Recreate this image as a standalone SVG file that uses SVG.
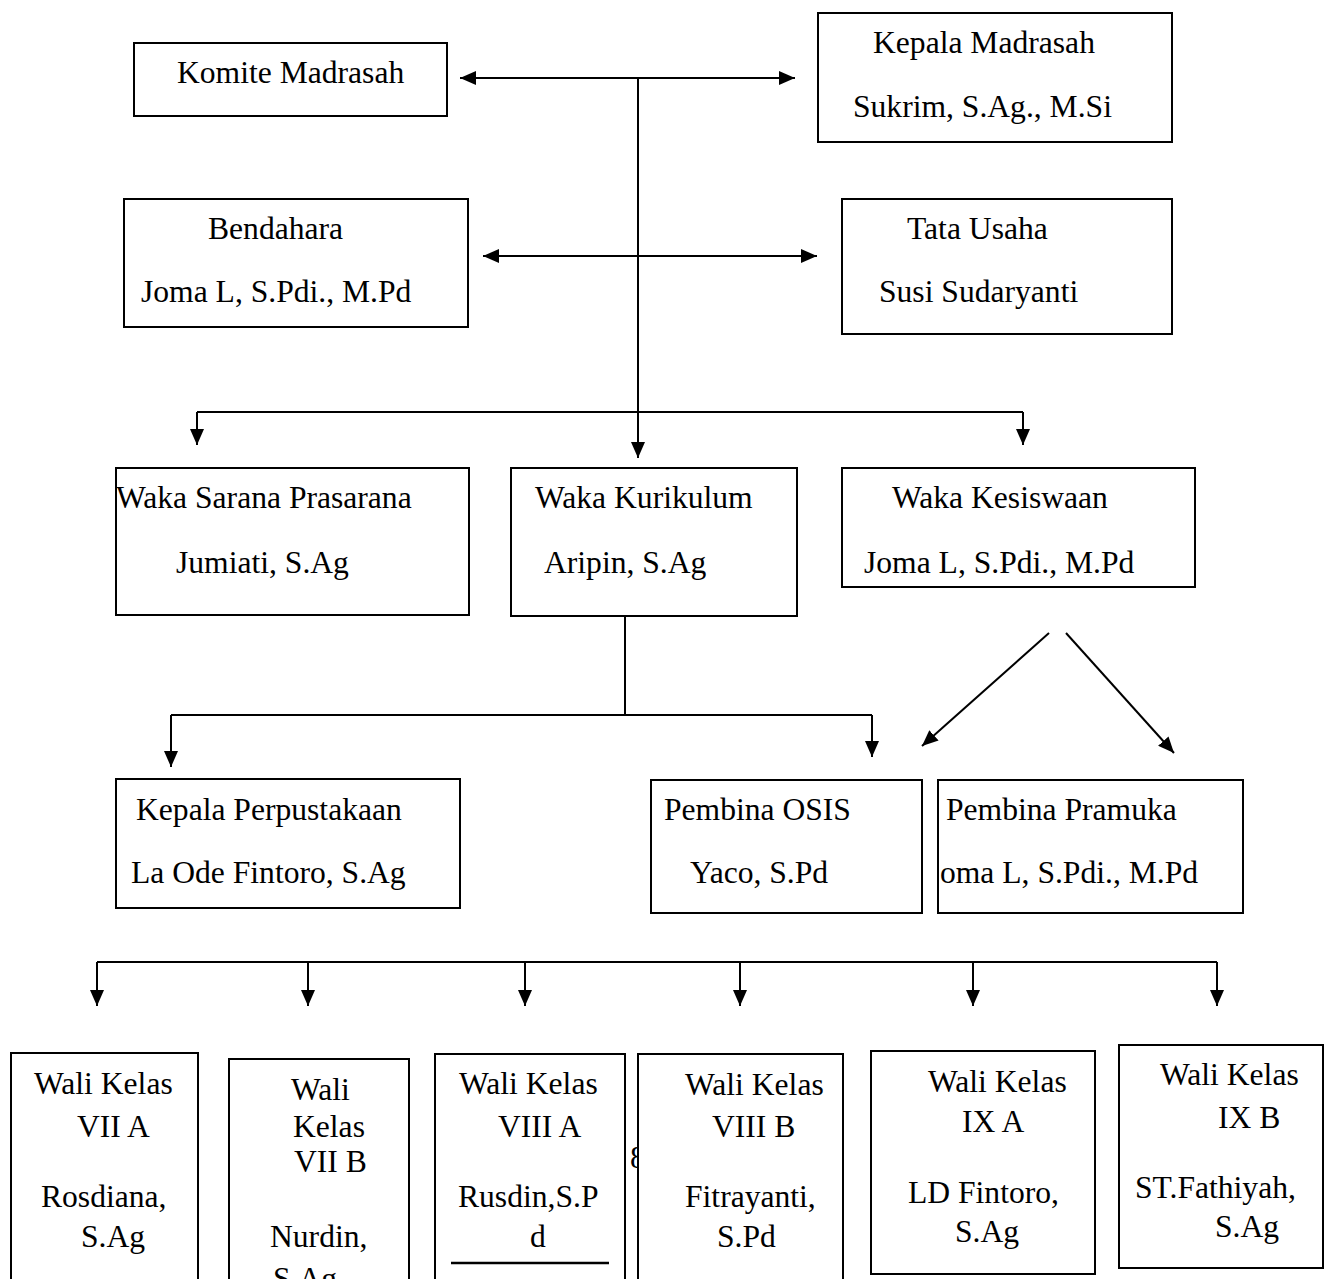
<svg xmlns="http://www.w3.org/2000/svg" width="1336" height="1279" viewBox="0 0 1336 1279">
<style>
  .box { fill: #fff; stroke: #000; stroke-width: 2; }
  .t { font-family: "Liberation Serif", "Times New Roman", serif; font-size: 31.6px; fill: #000; }
  .ln { fill: none; stroke: #000; stroke-width: 2; }
  .arr { marker-end: url(#ah); }
  .dbl { marker-start: url(#ah); marker-end: url(#ah); }
</style>
<defs>
  <marker id="ah" viewBox="0 0 16 14" refX="16" refY="7" markerWidth="16" markerHeight="14" markerUnits="userSpaceOnUse" orient="auto-start-reverse">
    <path d="M0,0 L16,7 L0,14 z" fill="#000"/>
  </marker>
</defs>
<rect width="1336" height="1279" fill="#fff"/>

<g id="connectors">
  <line class="ln dbl" x1="460" y1="78" x2="795" y2="78"/>
  <line class="ln dbl" x1="483" y1="256" x2="817" y2="256"/>
  <line class="ln arr" x1="638" y1="78" x2="638" y2="458"/>
  <line class="ln" x1="197" y1="412" x2="1023" y2="412"/>
  <line class="ln arr" x1="197" y1="412" x2="197" y2="445"/>
  <line class="ln arr" x1="1023" y1="412" x2="1023" y2="445"/>
  <line class="ln" x1="625" y1="616" x2="625" y2="715"/>
  <line class="ln" x1="171" y1="715" x2="872" y2="715"/>
  <line class="ln arr" x1="171" y1="715" x2="171" y2="767"/>
  <line class="ln arr" x1="872" y1="715" x2="872" y2="757"/>
  <line class="ln arr" x1="1049" y1="633" x2="922" y2="746"/>
  <line class="ln arr" x1="1066" y1="633" x2="1174" y2="753"/>
  <line class="ln" x1="97" y1="962" x2="1217" y2="962"/>
  <line class="ln arr" x1="97" y1="962" x2="97" y2="1006"/>
  <line class="ln arr" x1="308" y1="962" x2="308" y2="1006"/>
  <line class="ln arr" x1="525" y1="962" x2="525" y2="1006"/>
  <line class="ln arr" x1="740" y1="962" x2="740" y2="1006"/>
  <line class="ln arr" x1="973" y1="962" x2="973" y2="1006"/>
  <line class="ln arr" x1="1217" y1="962" x2="1217" y2="1006"/>
</g>

<g id="komite">
  <rect class="box" x="134" y="43" width="313" height="73"/>
  <text class="t" x="177" y="83">Komite Madrasah</text>
</g>
<g id="kepala">
  <rect class="box" x="818" y="13" width="354" height="129"/>
  <text class="t" x="873" y="53">Kepala Madrasah</text>
  <text class="t" x="853" y="117">Sukrim, S.Ag., M.Si</text>
</g>
<g id="bendahara">
  <rect class="box" x="124" y="199" width="344" height="128"/>
  <text class="t" x="208" y="239">Bendahara</text>
  <text class="t" x="141" y="302">Joma L, S.Pdi., M.Pd</text>
</g>
<g id="tatausaha">
  <rect class="box" x="842" y="199" width="330" height="135"/>
  <text class="t" x="907" y="239">Tata Usaha</text>
  <text class="t" x="879" y="302">Susi Sudaryanti</text>
</g>
<g id="waka-sarana">
  <rect class="box" x="116" y="468" width="353" height="147"/>
  <text class="t" x="116" y="508">Waka Sarana Prasarana</text>
  <text class="t" x="176" y="573">Jumiati, S.Ag</text>
</g>
<g id="waka-kurikulum">
  <rect class="box" x="511" y="468" width="286" height="148"/>
  <text class="t" x="535" y="508">Waka Kurikulum</text>
  <text class="t" x="544" y="573">Aripin, S.Ag</text>
</g>
<g id="waka-kesiswaan">
  <rect class="box" x="842" y="468" width="353" height="119"/>
  <text class="t" x="892" y="508">Waka Kesiswaan</text>
  <text class="t" x="864" y="573">Joma L, S.Pdi., M.Pd</text>
</g>
<g id="perpustakaan">
  <rect class="box" x="116" y="779" width="344" height="129"/>
  <text class="t" x="136" y="820">Kepala Perpustakaan</text>
  <text class="t" x="131" y="883">La Ode Fintoro, S.Ag</text>
</g>
<g id="osis">
  <rect class="box" x="651" y="780" width="271" height="133"/>
  <text class="t" x="664" y="820">Pembina OSIS</text>
  <text class="t" x="690" y="883">Yaco, S.Pd</text>
</g>
<g id="pramuka">
  <rect class="box" x="938" y="780" width="305" height="133"/>
  <text class="t" x="946" y="820">Pembina Pramuka</text>
  <text class="t" x="940" y="883">oma L, S.Pdi., M.Pd</text>
</g>

<g id="wali-7a">
  <rect class="box" x="11" y="1053" width="187" height="260"/>
  <text class="t" x="34" y="1094">Wali Kelas</text>
  <text class="t" x="77" y="1137">VII A</text>
  <text class="t" x="41" y="1207">Rosdiana,</text>
  <text class="t" x="81" y="1247">S.Ag</text>
</g>
<g id="wali-7b">
  <rect class="box" x="229" y="1059" width="180" height="260"/>
  <text class="t" x="291" y="1100">Wali</text>
  <text class="t" x="293" y="1137">Kelas</text>
  <text class="t" x="294" y="1172">VII B</text>
  <text class="t" x="270" y="1247">Nurdin,</text>
  <text class="t" x="273" y="1289">S.Ag</text>
</g>
<g id="wali-8a">
  <rect class="box" x="435" y="1054" width="190" height="260"/>
  <text class="t" x="459" y="1094">Wali Kelas</text>
  <text class="t" x="498" y="1137">VIII A</text>
  <text class="t" x="458" y="1207">Rusdin,S.P</text>
  <text class="t" x="530" y="1247">d</text>
  <line x1="451" y1="1263" x2="609" y2="1263" stroke="#000" stroke-width="2.5"/>
</g>
<text class="t" x="630" y="1168">8</text>
<g id="wali-8b">
  <rect class="box" x="638" y="1054" width="205" height="260"/>
  <text class="t" x="685" y="1095">Wali Kelas</text>
  <text class="t" x="712" y="1137">VIII B</text>
  <text class="t" x="685" y="1207">Fitrayanti,</text>
  <text class="t" x="717" y="1247">S.Pd</text>
</g>
<g id="wali-9a">
  <rect class="box" x="871" y="1051" width="224" height="223"/>
  <text class="t" x="928" y="1092">Wali Kelas</text>
  <text class="t" x="962" y="1132">IX A</text>
  <text class="t" x="908" y="1203">LD Fintoro,</text>
  <text class="t" x="955" y="1242">S.Ag</text>
</g>
<g id="wali-9b">
  <rect class="box" x="1119" y="1045" width="204" height="223"/>
  <text class="t" x="1160" y="1085">Wali Kelas</text>
  <text class="t" x="1218" y="1128">IX B</text>
  <text class="t" x="1135" y="1198">ST.Fathiyah,</text>
  <text class="t" x="1215" y="1237">S.Ag</text>
</g>
</svg>
